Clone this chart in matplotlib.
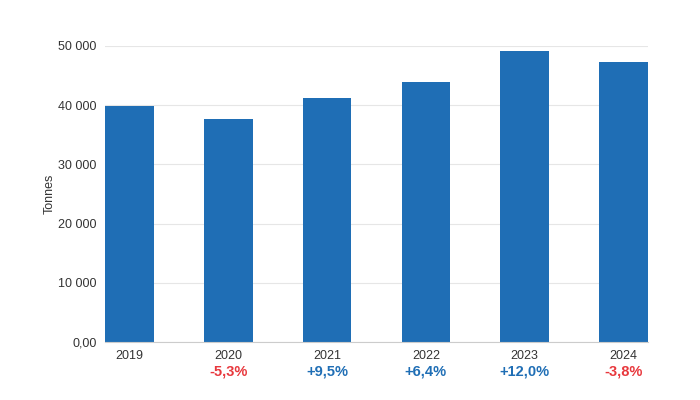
import matplotlib
matplotlib.use("Agg")
import matplotlib.pyplot as plt

years = ["2019", "2020", "2021", "2022", "2023", "2024"]
values = [39800, 37700, 41300, 43900, 49200, 47300]
changes = ["", "-5,3%", "+9,5%", "+6,4%", "+12,0%", "-3,8%"]
change_colors = ["", "#e8383d", "#1f6eb5", "#1f6eb5", "#1f6eb5", "#e8383d"]
yticks = [0, 10000, 20000, 30000, 40000, 50000]
ytick_labels = ["0,00", "10 000", "20 000", "30 000", "40 000", "50 000"]

plt.rcParams['font.family'] = ['Liberation Sans', 'DejaVu Sans']
fig = plt.figure(figsize=(7, 4), dpi=100)
ax = fig.add_axes([105/700, 1-342/400, (648-105)/700, (342-46)/400])
x = range(len(years))
ax.bar(x, values, width=0.49, color="#1f6eb5", zorder=2)
ax.set_xlim(-0.25, 5.25)
ax.set_ylim(0, 50000)
ax.set_yticks(yticks)
ax.set_yticklabels(ytick_labels, fontsize=9, color="#333333")
ax.set_xticks(list(x))
ax.set_xticklabels(years, fontsize=9, color="#333333")
ax.grid(axis="y", color="#e6e6e6", linewidth=0.8, zorder=0)
for s in ["top", "right", "left"]:
    ax.spines[s].set_visible(False)
ax.spines["bottom"].set_color("#cccccc")
ax.tick_params(axis="both", length=0, pad=6)
ax.set_ylabel("Tonnes", fontsize=9, color="#333333", labelpad=2)
for i, (c, col) in enumerate(zip(changes, change_colors)):
    if c:
        ax.text(i, -5000, c, ha="center", va="center", fontsize=10.5,
                fontweight="bold", color=col)
fig.savefig("out.png", dpi=100)
